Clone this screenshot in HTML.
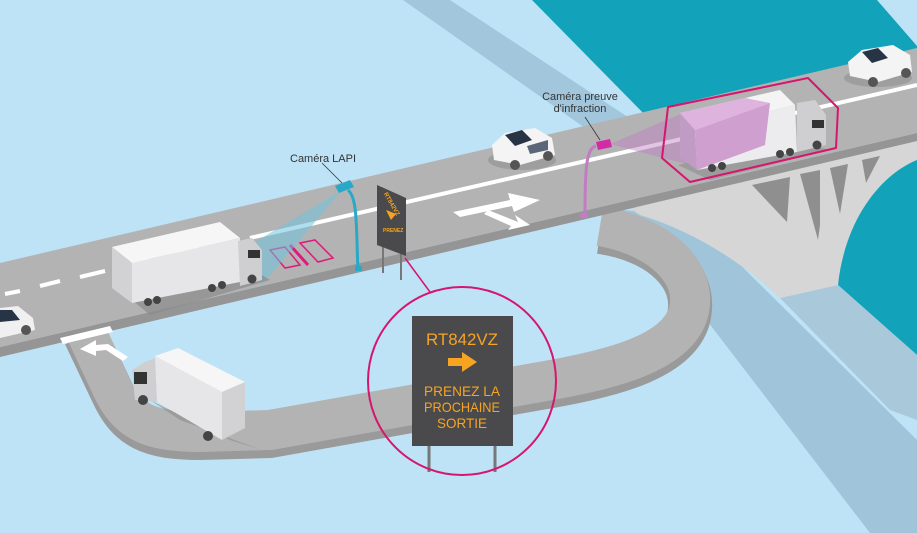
<!DOCTYPE html>
<html><head><meta charset="utf-8"><style>
html,body{margin:0;padding:0;background:#bee3f6;}
svg{display:block}
text{font-family:"Liberation Sans",sans-serif;}
</style></head><body>
<svg width="917" height="533" viewBox="0 0 917 533" xmlns="http://www.w3.org/2000/svg">
<rect width="917" height="533" fill="#bee3f6"/>
<polygon points="532,0 877,0 917,46 917,60 650,120" fill="#12a3ba"/>
<path d="M917,150 C880,170 840,220 838,285 L917,355 Z" fill="#12a3ba"/>
<polygon points="403,0 450,0 640,125 595,135" fill="#a2c7dd"/>
<polygon points="622,210 690,215 917,440 917,533 870,533" fill="#a0c4d9"/>
<polygon points="780,298 838,285 917,355 917,420 890,410" fill="#a9c8da"/>
<path d="M625,205 L917,138 L917,160 C880,175 845,220 838,285 L780,298 C740,260 690,230 640,215 Z" fill="#d6d6d6"/>
<polygon points="752,185 790,177 787,222" fill="#8f8f8f"/>
<polygon points="800,174 820,170 820,225 818,240" fill="#8f8f8f"/>
<polygon points="830,168 848,164 840,214" fill="#8f8f8f"/>
<polygon points="862,160 880,156 866,183" fill="#8f8f8f"/>
<path d="M85,335 L112,392 C128,428 150,438 200,438 L270,436 L540,388 C610,376 675,360 688,320 C700,278 660,240 600,232" fill="none" stroke="#9a9a9a" stroke-width="44" stroke-linejoin="round"/>
<path d="M85,330 L112,388 C128,422 150,432 200,432 L270,430 L540,382 C610,370 675,354 688,314 C700,274 660,236 600,226" fill="none" stroke="#b3b3b3" stroke-width="40" stroke-linejoin="round"/>
<polygon points="0,347 917,133 917,141 0,357" fill="#959595"/>
<polygon points="0,263 917,48 917,133 0,347" fill="#b3b3b3"/>
<line x1="250" y1="238" x2="917" y2="85" stroke="#fff" stroke-width="4"/>
<g stroke="#fff" stroke-width="4">
<line x1="5" y1="294" x2="20" y2="291"/><line x1="40" y1="286" x2="60" y2="281"/><line x1="80" y1="277" x2="105" y2="271"/><line x1="125" y1="266" x2="150" y2="260"/><line x1="170" y1="256" x2="200" y2="249"/>
</g>
<polygon points="60,338 110,326 113,332 63,344" fill="#fff"/>
<polygon points="80,349 96,340 96,345 108,344 128,357 123,361 106,350 96,351 96,356" fill="#fff"/>
<polygon points="453,212 510,200 508,193 540,200 514,212 512,206 460,217" fill="#fff"/>
<polygon points="488,210 518,222 515,215 530,225 508,230 511,226 484,214" fill="#fff"/>
<g fill="none" stroke="#e0197d" stroke-width="1.5">
<polygon points="270,250 285,247 300,265 285,268"/>
<polygon points="300,243 315,240 333,258 318,262"/>
</g>
<line x1="290" y1="245" x2="308" y2="265" stroke="#e0197d" stroke-width="3"/>
<polygon points="342,190 250,245 262,285" fill="#6fc3dc" opacity="0.55"/>
<polygon points="120,290 240,262 270,280 150,315" fill="#8c8c8c" opacity="0.7"/>
<polygon points="112,247 220,222 240,238 132,263" fill="#f6f6f6"/>
<polygon points="132,263 240,238 240,282 132,303" fill="#e6e6e8"/>
<polygon points="112,247 132,263 132,303 112,288" fill="#d2d2d4"/>
<polygon points="238,241 252,238 262,250 262,280 240,286" fill="#cfcfd1"/>
<rect x="248" y="250" width="12" height="8" fill="#333"/>
<g fill="#444"><circle cx="148" cy="302" r="4"/><circle cx="157" cy="300" r="4"/><circle cx="212" cy="288" r="4"/><circle cx="222" cy="285" r="4"/><circle cx="252" cy="279" r="4.5"/></g>
<path d="M348,190 C358,198 356,230 358,270" fill="none" stroke="#2aa8c8" stroke-width="3"/>
<rect x="355" y="266" width="7" height="5" fill="#2aa8c8"/>
<polygon points="335,186 350,180 354,187 339,193" fill="#2aa8c8"/>
<line x1="322" y1="163" x2="342" y2="183" stroke="#333" stroke-width="0.8"/>
<text x="290" y="162" font-size="11" fill="#333">Caméra LAPI</text>
<line x1="383" y1="245" x2="383" y2="273" stroke="#777" stroke-width="2"/>
<line x1="401" y1="252" x2="401" y2="280" stroke="#777" stroke-width="2"/>
<polygon points="377,185 406,198 406,256 377,245" fill="#4a4a4c"/>
<g fill="#f6a421" font-size="6" font-weight="bold">
<text x="379" y="198" transform="rotate(60 385 200)">RT842VZ</text>
<text x="383" y="232" font-size="5">PRENEZ</text>
</g>
<polygon points="386,210 396,214 391,220" fill="#f6a421"/>
<ellipse cx="522" cy="160" rx="34" ry="10" fill="#8f8f8f" opacity="0.6"/>
<path d="M492,145 L505,133 L535,128 L552,138 L555,155 L520,165 L494,160 Z" fill="#f4f4f4"/>
<polygon points="505,135 522,130 532,140 515,146" fill="#273446"/>
<polygon points="527,146 548,140 548,150 530,154" fill="#5b6778"/>
<circle cx="515" cy="165" r="5" fill="#555"/><circle cx="548" cy="156" r="5" fill="#555"/>
<ellipse cx="878" cy="78" rx="34" ry="9" fill="#8f8f8f" opacity="0.6"/>
<path d="M848,62 L862,50 L893,45 L910,55 L912,72 L878,82 L850,76 Z" fill="#f4f4f4"/>
<polygon points="862,52 878,48 888,58 872,63" fill="#273446"/>
<circle cx="873" cy="82" r="5" fill="#555"/><circle cx="906" cy="73" r="5" fill="#555"/>
<path d="M0,308 L18,306 L33,318 L35,330 L0,338 Z" fill="#f0f0f0"/>
<polygon points="0,310 12,310 20,320 0,322" fill="#273446"/>
<circle cx="26" cy="330" r="5" fill="#555"/>
<polygon points="610,144 690,110 690,165" fill="#c27cc4" opacity="0.45"/>
<polygon points="678,165 790,140 830,150 710,180" fill="#8c8c8c" opacity="0.6"/>
<polygon points="680,113 780,90 795,105 695,130" fill="#f4f4f4"/>
<polygon points="695,130 795,105 797,152 697,170" fill="#ececee"/>
<polygon points="680,113 695,130 697,170 680,158" fill="#c09cc4"/>
<polygon points="680,113 745,98 770,103 695,130" fill="#deb3dd"/>
<polygon points="695,130 770,103 765,145 697,170" fill="#cfa0cf"/>
<polygon points="797,103 815,100 826,115 826,145 797,152" fill="#cfcfd1"/>
<rect x="812" y="120" width="12" height="8" fill="#333"/>
<g fill="#444"><circle cx="712" cy="168" r="4"/><circle cx="722" cy="166" r="4"/><circle cx="780" cy="154" r="4"/><circle cx="790" cy="152" r="4"/><circle cx="817" cy="145" r="4.5"/></g>
<path d="M668,107 L808,78 L838,108 L836,148 L690,182 L662,158 Z" fill="none" stroke="#d6156e" stroke-width="2" stroke-linejoin="round"/>
<path d="M596,146 C586,148 585,170 585,215" fill="none" stroke="#c27cc4" stroke-width="3"/>
<rect x="580" y="213" width="8" height="5" fill="#c27cc4"/>
<polygon points="596,142 610,139 612,147 598,150" fill="#d32aa8"/>
<line x1="585" y1="117" x2="600" y2="140" stroke="#333" stroke-width="0.8"/>
<text x="580" y="100" font-size="11" fill="#333" text-anchor="middle">Caméra preuve</text>
<text x="580" y="112" font-size="11" fill="#333" text-anchor="middle">d'infraction</text>
<line x1="405" y1="258" x2="430" y2="292" stroke="#d6156e" stroke-width="1.5"/>
<line x1="429" y1="446" x2="429" y2="472" stroke="#777" stroke-width="3"/>
<line x1="495" y1="446" x2="495" y2="472" stroke="#777" stroke-width="3"/>
<rect x="412" y="316" width="101" height="130" fill="#4a4a4c"/>
<g fill="#f6a421" font-family="Liberation Mono, monospace" text-anchor="middle">
<text x="462" y="345" font-size="17" textLength="72" lengthAdjust="spacingAndGlyphs">RT842VZ</text>
<text x="462" y="396" font-size="14" textLength="76" lengthAdjust="spacingAndGlyphs">PRENEZ LA</text>
<text x="462" y="412" font-size="14" textLength="76" lengthAdjust="spacingAndGlyphs">PROCHAINE</text>
<text x="462" y="428" font-size="14" textLength="50" lengthAdjust="spacingAndGlyphs">SORTIE</text>
</g>
<polygon points="448,358 462,358 462,352 477,362 462,372 462,366 448,366" fill="#f6a421"/>
<circle cx="462" cy="381" r="94" fill="none" stroke="#d6156e" stroke-width="2"/>
<polygon points="150,400 230,440 262,450 180,420" fill="#8c8c8c" opacity="0.6"/>
<polygon points="155,356 178,348 245,382 222,392" fill="#f6f6f6"/>
<polygon points="155,356 222,392 222,440 157,402" fill="#e6e6e8"/>
<polygon points="222,392 245,382 245,428 222,440" fill="#d2d2d4"/>
<polygon points="132,370 145,362 155,358 157,402 135,400" fill="#cfcfd1"/>
<rect x="134" y="372" width="13" height="12" fill="#333"/>
<g fill="#444"><circle cx="143" cy="400" r="5"/><circle cx="208" cy="436" r="5"/></g>
</svg>
</body></html>
